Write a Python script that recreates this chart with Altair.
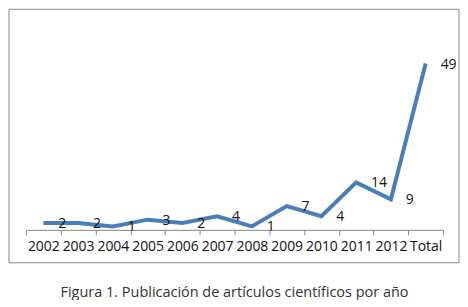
import altair as alt
import pandas as pd

categories = ["2002", "2003", "2004", "2005", "2006", "2007", "2008",
              "2009", "2010", "2011", "2012", "Total"]
values = [2, 2, 1, 3, 2, 4, 1, 7, 4, 14, 9, 49]
caption = "Figura 1. Publicación de artículos científicos por año"

df = pd.DataFrame({"cat": categories, "v": values})

W = 418
H = 204
FONT = "Open Sans"

x_enc = alt.X(
    "cat:N",
    sort=categories,
    scale=alt.Scale(type="band", paddingInner=0, paddingOuter=0),
    axis=alt.Axis(
        title=None, labelAngle=0, tickBand="extent",
        domainColor="#868686", tickColor="#868686", tickSize=5,
        domainWidth=1, tickWidth=1,
        labelFont=FONT, labelFontSize=14, labelColor="#111111",
        labelPadding=5,
    ),
)
y_enc = alt.Y("v:Q", scale=alt.Scale(domain=[0, 60]), axis=None)

base = alt.Chart(df).encode(x=x_enc, y=y_enc)

line = base.mark_line(color="#4A7EBB", strokeWidth=4, strokeJoin="miter")
labels = base.mark_text(
    align="left", baseline="middle", dx=15, dy=1,
    font=FONT, fontSize=14, color="#111111",
).encode(text="v:Q")

frame = alt.Chart(pd.DataFrame({"a": [0]})).mark_rect(
    fill="transparent", stroke="#888888", strokeWidth=1
).encode(
    x=alt.value(-17), x2=alt.value(W + 16),
    y=alt.value(-17), y2=alt.value(H + 33),
)

chart = alt.layer(frame, line, labels).properties(
    width=W, height=H, padding=0,
    title=alt.TitleParams(
        caption, orient="bottom", anchor="middle", font=FONT,
        fontSize=14.5, fontWeight="normal", color="#333333", offset=23,
    ),
).configure_view(stroke="transparent")

chart.save("out.html", embed_options={"renderer": "svg", "actions": False})
